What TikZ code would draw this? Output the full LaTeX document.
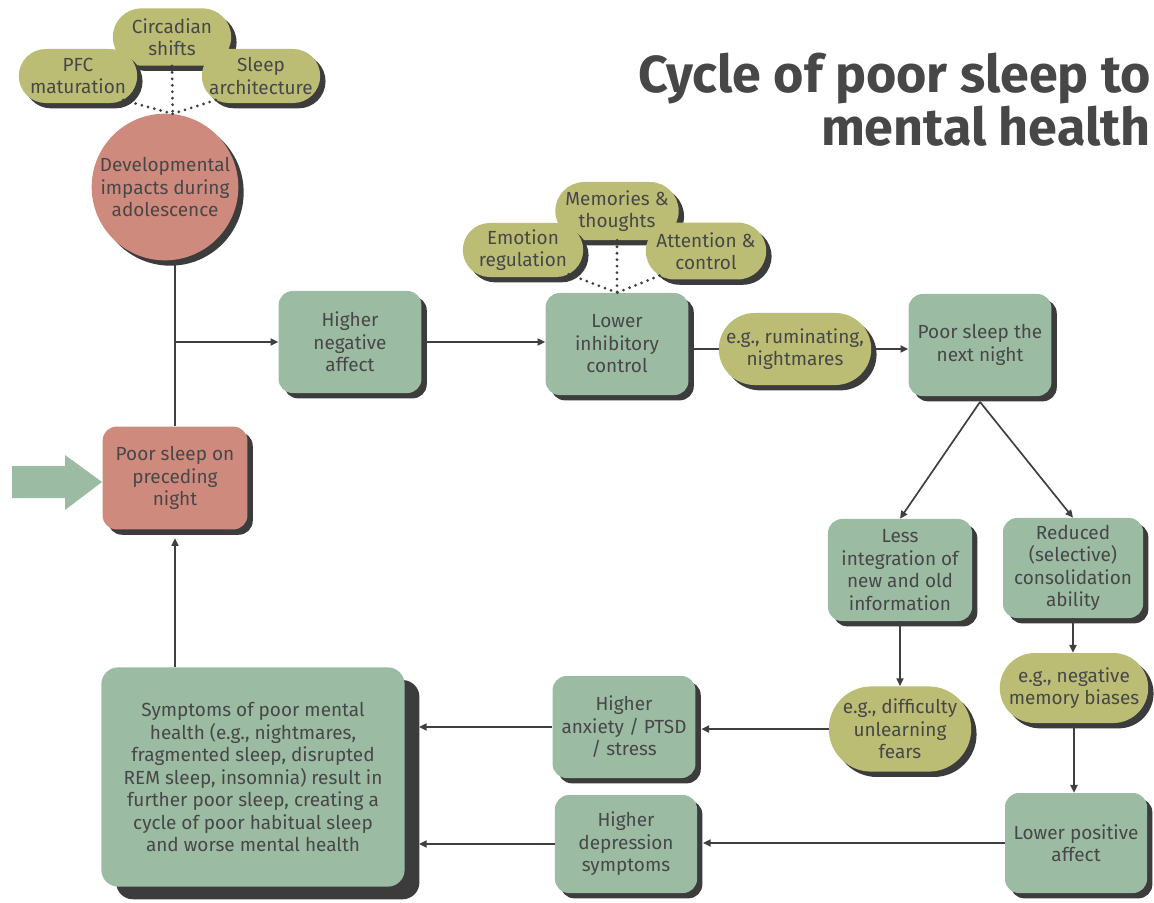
\documentclass[tikz,border=0pt]{standalone}
\usepackage{fontspec}
\setmainfont{Fira Sans}
\usetikzlibrary{arrows.meta, positioning, shapes.geometric, shapes.misc, shadows}
\definecolor{Sage_Green}{HTML}{9CBBA3}
\definecolor{Sage_Olive}{HTML}{BCBD75}
\definecolor{Sage_Rose}{HTML}{CF8A7E}
\definecolor{Sage_Shadow}{HTML}{3C3C3C}
\definecolor{Sage_Text}{HTML}{474747}
\definecolor{Sage_Line}{HTML}{3F3F3F}

\tikzset{
  body/.style={font=\fontsize{13.5}{16}\selectfont, text=Sage_Text, align=center, inner sep=1pt},
  shade5/.style={drop shadow={shadow xshift=3.8pt, shadow yshift=-3.8pt, fill=Sage_Shadow, opacity=1}},
  greenbox/.style={body, shade5, fill=Sage_Green, rounded corners=10pt, minimum width=3.57cm, minimum height=2.55cm},
  rosebox/.style={body, shade5, fill=Sage_Rose, rounded corners=10pt, minimum width=3.62cm, minimum height=2.57cm},
  olivepill/.style={body, shade5, fill=Sage_Olive, rounded rectangle, minimum width=3.03cm, minimum height=1.35cm},
  conn/.style={-{Triangle[length=5.5pt,width=5pt]}, line width=1.2pt, draw=Sage_Line},
  link/.style={line width=1.2pt, draw=Sage_Line},
  dotline/.style={draw=Sage_Line, line width=2.2pt, line cap=round, dash pattern=on 0pt off 4.6pt},
}

\begin{document}
\begin{tikzpicture}[x=0.025cm, y=-0.025cm]
    \useasboundingbox (0,0) rectangle (1154,902);

    % Title
    \node[anchor=north east, align=right, text=Sage_Text, font=\fontsize{37}{37.5}\selectfont\bfseries, inner sep=0pt] (title) at (1151,53) {Cycle of poor sleep to\\mental health};

    % Developmental cluster
    \node[olivepill, minimum height=1.43cm] (circ) at (172,37) {Circadian\\shifts};
    \node[olivepill] (pfc) at (78,76) {PFC\\maturation};
    \node[olivepill] (arch) at (261,76) {Sleep\\architecture};
    \node[body, shade5, fill=Sage_Rose, circle, minimum size=3.65cm] (dev) at (165,187) {Developmental\\impacts during\\adolescence};
    \draw[dotline] (circ.south) -- (dev.84);
    \draw[dotline] (pfc.-28) -- (dev.84);
    \draw[dotline] (arch.208) -- (dev.84);

    % Entry point
    \node[rosebox] (pre) at (175,478) {Poor sleep on\\preceding\\night};
    \fill[Sage_Green] (12,466) -- (65,466) -- (65,455) -- (102,482) -- (65,510) -- (65,498) -- (12,498) -- cycle;

    % Upper row
    \node[greenbox] (hna) at (350,342) {Higher\\negative\\affect};
    \node[greenbox] (lic) at (617,344) {Lower\\inhibitory\\control};
    \node[olivepill, minimum height=1.45cm] (mem) at (617,211) {Memories \&\\thoughts};
    \node[olivepill, minimum width=3.08cm] (emo) at (523,250) {Emotion\\regulation};
    \node[olivepill, minimum width=3.08cm, minimum height=1.42cm] (att) at (706,251) {Attention \&\\control};
    \draw[dotline] (mem.south) -- (lic.north);
    \draw[dotline] (emo.-28) -- (lic.north);
    \draw[dotline] (att.208) -- (lic.north);
    \node[olivepill, minimum width=3.88cm, minimum height=1.8cm] (rum) at (795,349) {e.g., ruminating,\\nightmares};
    \node[greenbox] (next) at (980,345) {Poor sleep the\\next night};

    % Right branches
    \node[greenbox, minimum width=3.6cm] (less) at (900,570) {Less\\integration of\\new and old\\information};
    \node[greenbox, minimum width=3.5cm, minimum height=2.5cm] (red) at (1073,568) {Reduced\\(selective)\\consolidation\\ability};
    \node[olivepill, minimum width=3.63cm, minimum height=2.13cm] (fear) at (900,729) {e.g., difficulty\\unlearning\\fears};
    \node[olivepill, minimum width=3.78cm, minimum height=1.75cm] (bias) at (1074,688) {e.g., negative\\memory biases};
    \node[greenbox, minimum width=3.55cm, minimum height=2.5cm] (lpa) at (1076,843) {Lower positive\\affect};

    % Lower row
    \node[greenbox] (hanx) at (624,727) {Higher\\anxiety / PTSD\\/ stress};
    \node[greenbox, minimum width=3.55cm, minimum height=2.45cm] (hdep) at (626,844) {Higher\\depression\\symptoms};
    \node[body, fill=Sage_Green, rounded corners=12pt, minimum width=7.58cm, minimum height=5.48cm,
          drop shadow={shadow xshift=10.5pt, shadow yshift=-9pt, fill=Sage_Shadow, opacity=1}] (sym) at (253,777)
          {Symptoms of poor mental\\health (e.g., nightmares,\\fragmented sleep, disrupted\\REM sleep, insomnia) result in\\further poor sleep, creating a\\cycle of poor habitual sleep\\and worse mental health};

    % Connectors
    \draw[link] (dev.south -| pre.north) -- (pre.north);
    \draw[conn] (pre.north |- hna.west) -- (hna.west);
    \draw[conn] (hna.east) -- (hna.east -| lic.west);
    \draw[link] (lic.east |- rum.west) -- (rum.west);
    \draw[conn] (rum.east) -- (rum.east -| next.west);
    \draw[conn] ([yshift=-4pt]next.south) -- (less.north);
    \draw[conn] ([yshift=-4pt]next.south) -- (red.north);
    \draw[conn] (less.south) -- (less.south |- fear.north);
    \draw[conn] (red.south) -- (red.south |- bias.north);
    \draw[conn] (bias.south) -- (bias.south |- lpa.north);
    \draw[conn, shorten >=4pt] (lpa.west) -- (lpa.west -| hdep.east);
    \draw[conn, shorten >=4pt] (fear.west) -- (fear.west -| hanx.east);
    \draw[conn, shorten >=10pt] (hanx.west) -- (hanx.west -| sym.east);
    \draw[conn, shorten >=10pt] (hdep.west) -- (hdep.west -| sym.east);
    \draw[conn, shorten >=6pt] (sym.north -| pre.south) -- (pre.south);
\end{tikzpicture}
\end{document}
